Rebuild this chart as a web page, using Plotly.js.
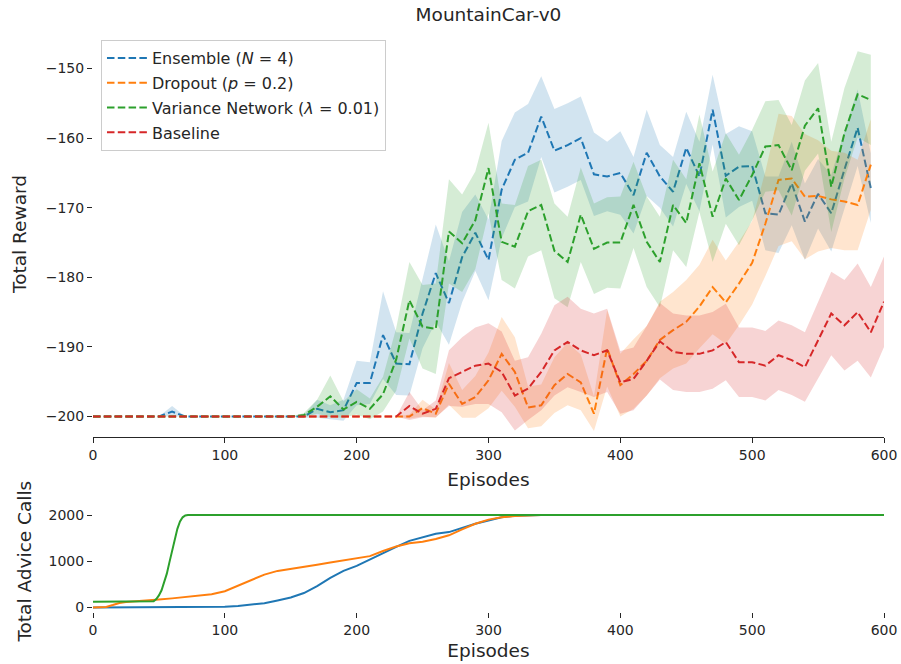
<!DOCTYPE html>
<html>
<head>
<meta charset="utf-8">
<script src="https://cdn.plot.ly/plotly-3.0.1.min.js"></script>
<style>
  html, body { margin: 0; padding: 0; background: #fff; }
  #chart { width: 901px; height: 664px; }
</style>
</head>
<body>
<div id="chart"></div>
<script>
// ---- Reward curves (mean and std over runs), one point every 10 episodes ----
const episodes = [0,10,20,30,40,50,60,70,80,90,100,110,120,130,140,150,160,170,180,190,
  200,210,220,230,240,250,260,270,280,290,300,310,320,330,340,350,360,370,380,390,
  400,410,420,430,440,450,460,470,480,490,500,510,520,530,540,550,560,570,580,590];
const episodesBaseline = [0,10,20,30,40,50,60,70,80,90,100,110,120,130,140,150,160,170,180,190,
  200,210,220,230,240,250,260,270,280,290,300,310,320,330,340,350,360,370,380,390,
  400,410,420,430,440,450,460,470,480,490,500,510,520,530,540,550,560,570,580,590,600];

const ensembleMean = [-200,-200,-200,-200,-200,-200,-199.3,-200,-200,-200,
  -200,-200,-200,-200,-200,-200,-200,-198.9,-199.4,-199.1,
  -195.2,-195.2,-188.3,-192.4,-192.5,-185.2,-179.4,-183.7,-177.1,-173.6,
  -177.5,-167.4,-163.1,-162.1,-156.9,-161.8,-161.0,-160.0,-165.2,-165.5,
  -165.0,-168.2,-162.1,-165.5,-167.7,-161.4,-165.5,-155.9,-165.4,-164.1,
  -164.0,-170.8,-171.0,-166.5,-172.0,-168.0,-170.8,-164.5,-158.5,-167.2];
const ensembleStd = [0,0,0,0,0,0,0.8,0,0,0,
  0,0,0,0,0,0,0.2,1.3,1.0,1.5,
  3.2,3.0,6.3,4.5,4.5,5.0,7.0,6.0,6.5,5.5,
  5.8,7.0,6.8,7.0,5.8,6.0,6.0,6.0,6.0,5.0,
  6.0,5.5,6.2,4.5,5.0,5.2,5.0,5.0,6.0,5.8,
  5.0,5.3,5.5,6.0,5.5,5.0,5.5,5.5,5.5,5.0];

const dropoutMean = [-200,-200,-200,-200,-200,-200,-200,-200,-200,-200,
  -200,-200,-200,-200,-200,-200,-200,-200,-200,-200,
  -200,-200,-200,-200,-200,-198.8,-199.6,-195.3,-198.2,-197.2,
  -194.8,-191.0,-193.6,-198.7,-198.4,-195.5,-193.9,-195.1,-199.6,-190.2,
  -195.5,-193.9,-192.0,-189.0,-187.6,-186.4,-184.2,-181.4,-183.6,-180.9,
  -177.9,-172.3,-166.0,-165.8,-168.4,-168.3,-168.8,-169.1,-169.6,-163.8];
const dropoutStd = [0,0,0,0,0,0,0,0,0,0,
  0,0,0,0,0,0,0,0,0,0,
  0,0,0,0,0.3,1.2,0.6,3.0,2.0,3.0,
  4.0,5.3,5.0,3.0,3.0,4.0,4.5,4.0,2.5,5.5,
  4.5,5.0,5.0,5.5,5.5,6.0,6.0,6.8,6.0,6.0,
  6.0,7.5,9.5,9.0,9.0,8.0,7.0,7.0,6.5,6.5];

const varianceMean = [-200,-200,-200,-200,-200,-200,-200,-200,-200,-200,
  -200,-200,-200,-200,-200,-200,-199.8,-198.6,-197.1,-199.0,
  -197.9,-198.9,-196.8,-191.8,-183.3,-187.1,-187.4,-173.4,-175.1,-171.8,
  -164.3,-174.9,-175.6,-170.5,-169.6,-176.2,-177.8,-171.0,-175.9,-175.0,
  -175.0,-169.6,-174.9,-177.8,-169.6,-172.2,-163.6,-171.3,-165.8,-168.9,
  -165.3,-161.2,-161.0,-164.6,-158.2,-155.7,-167.0,-159.3,-153.7,-154.5];
const varianceStd = [0,0,0,0,0,0,0,0,0,0,
  0,0,0,0,0,0,0.3,1.0,3.0,1.2,
  1.8,1.5,2.5,4.5,5.5,6.0,6.5,7.5,7.0,7.0,
  6.5,5.5,6.0,6.5,6.5,6.8,6.5,6.8,6.5,6.5,
  6.6,6.2,6.5,6.5,6.5,6.3,7.0,6.5,6.5,6.5,
  6.5,6.5,6.5,6.5,6.5,6.5,6.5,6.5,6.2,6.5];

const baselineMean = [-200,-200,-200,-200,-200,-200,-200,-200,-200,-200,
  -200,-200,-200,-200,-200,-200,-200,-200,-200,-200,
  -200,-200,-200,-200,-198.5,-199.6,-198.9,-194.5,-193.6,-192.7,
  -192.4,-193.6,-197.0,-196.0,-193.6,-190.5,-189.3,-190.5,-191.2,-190.5,
  -195.1,-194.6,-192.0,-189.2,-190.7,-191.0,-191.0,-190.5,-189.3,-192.2,
  -192.2,-192.7,-191.2,-191.9,-192.9,-189.0,-185.2,-186.9,-185.0,-187.9,-183.5];
const baselineStd = [0,0,0,0,0,0,0,0,0,0,
  0,0,0,0,0,0,0,0,0,0,
  0,0,0,0,2.0,0.5,1.2,4.0,5.0,5.5,
  5.8,5.8,5.0,4.5,5.5,6.5,6.5,6.0,6.0,6.0,
  4.5,4.5,5.0,5.5,5.5,5.5,5.5,5.5,5.5,5.0,
  5.0,5.0,5.0,5.0,5.0,5.5,6.0,6.5,7.0,6.5,6.5];

// ---- Cumulative advice calls ----
const ensembleCallEps = [0,80,90,100,110,120,130,140,150,160,170,180,190,200,210,220,230,240,250,260,270,280,290,300,310,320,330,340,600];
const ensembleCalls   = [0,0,5,15,30,55,90,150,215,310,460,640,790,900,1040,1170,1310,1440,1525,1595,1630,1720,1810,1880,1950,1985,1995,2000,2000];

const dropoutCallEps = [0,5,10,15,20,25,30,40,50,60,70,80,90,100,110,120,130,140,150,160,170,180,190,200,210,220,230,240,250,260,270,280,290,300,310,320,330,340,600];
const dropoutCalls   = [0,0,10,50,95,115,125,135,170,195,225,255,285,350,470,600,710,790,840,880,925,970,1015,1055,1110,1220,1320,1390,1420,1480,1560,1690,1810,1900,1950,1980,1995,2000,2000];

const varianceCallEps = [0,40,46,48,50,52,54,56,58,60,62,64,66,68,70,72,600];
const varianceCalls   = [120,120,130,180,260,370,530,730,980,1240,1480,1700,1860,1950,1990,2000,2000];

// ---- Series labels and colours ----
const names = ['Ensemble (<i>N</i> = 4)', 'Dropout (<i>p</i> = 0.2)',
               'Variance Network (<i>λ</i> = 0.01)', 'Baseline'];
const colors = ['#1f77b4', '#ff7f0e', '#2ca02c', '#d62728'];
const bands  = ['rgba(31,119,180,0.2)', 'rgba(255,127,14,0.2)',
                'rgba(44,160,44,0.2)', 'rgba(214,39,40,0.2)'];

const rewardSeries = [
  [episodes, ensembleMean, ensembleStd],
  [episodes, dropoutMean, dropoutStd],
  [episodes, varianceMean, varianceStd],
  [episodesBaseline, baselineMean, baselineStd]
];

const traces = [];
rewardSeries.forEach(([x, mean, std], k) => {
  const upper = mean.map((m, i) => m + std[i]);
  const lower = mean.map((m, i) => m - std[i]);
  traces.push({
    x: x.concat(x.slice().reverse()),
    y: upper.concat(lower.slice().reverse()),
    type: 'scatter', mode: 'lines', fill: 'toself',
    fillcolor: bands[k], line: {width: 0, color: 'rgba(0,0,0,0)'},
    showlegend: false, hoverinfo: 'skip', legendgroup: 'g' + k,
    xaxis: 'x', yaxis: 'y'
  });
  traces.push({
    x: x, y: mean, type: 'scatter', mode: 'lines', name: names[k],
    line: {color: colors[k], width: 2, dash: '7.5px,3.3px'},
    legendgroup: 'g' + k, xaxis: 'x', yaxis: 'y'
  });
});

const callSeries = [
  [ensembleCallEps, ensembleCalls],
  [dropoutCallEps, dropoutCalls],
  [varianceCallEps, varianceCalls]
];
callSeries.forEach(([x, y], k) => {
  traces.push({
    x: x, y: y, type: 'scatter', mode: 'lines',
    line: {color: colors[k], width: 2},
    showlegend: false, xaxis: 'x2', yaxis: 'y2'
  });
});

const ink = '#262626';
const tickFont = {family: 'DejaVu Sans', size: 14, color: ink};
const labelFont = {family: 'DejaVu Sans', size: 18.5, color: ink};
const xTicks = [0, 100, 200, 300, 400, 500, 600];

const layout = {
  width: 901, height: 664,
  margin: {l: 93, r: 17, t: 31, b: 52},
  paper_bgcolor: '#fff', plot_bgcolor: '#fff',
  font: {family: 'DejaVu Sans', color: ink},
  title: {text: 'MountainCar-v0', font: {family: 'DejaVu Sans', size: 18.5, color: ink},
          x: 0.5, xanchor: 'center', xref: 'paper', y: 0.978, yanchor: 'middle', yref: 'container'},
  showlegend: true,
  legend: {
    x: 0.0101, y: 0.9845, xanchor: 'left', yanchor: 'top',
    bgcolor: 'rgba(255,255,255,0.8)', bordercolor: '#cccccc', borderwidth: 1,
    font: {family: 'DejaVu Sans', size: 16, color: ink},
    traceorder: 'grouped', tracegroupgap: 1, itemwidth: 40
  },
  xaxis: {
    domain: [0, 1], anchor: 'y', range: [0, 600], tickvals: xTicks,
    showgrid: false, zeroline: false, showline: true, linecolor: ink, linewidth: 1,
    ticks: 'outside', ticklen: 5, tickcolor: ink, tickfont: tickFont,
    title: {text: 'Episodes', font: labelFont, standoff: 11}
  },
  yaxis: {
    domain: [0.3012, 1], anchor: 'x', range: [-202.95, -144.6],
    tickvals: [-200, -190, -180, -170, -160, -150],
    showgrid: false, zeroline: false, showline: false,
    ticks: 'outside', ticklen: 5, tickcolor: ink, tickfont: tickFont,
    title: {text: 'Total Reward', font: labelFont, standoff: 14}
  },
  xaxis2: {
    domain: [0, 1], anchor: 'y2', range: [0, 600], tickvals: xTicks,
    showgrid: false, zeroline: false, showline: false,
    ticks: 'outside', ticklen: 5, tickcolor: ink, tickfont: tickFont,
    title: {text: 'Episodes', font: labelFont, standoff: 7}
  },
  yaxis2: {
    domain: [0, 0.1749], anchor: 'x2', range: [-100, 2100],
    tickvals: [0, 1000, 2000],
    showgrid: false, zeroline: false, showline: false,
    ticks: 'outside', ticklen: 5, tickcolor: ink, tickfont: tickFont,
    title: {text: 'Total Advice Calls', font: labelFont, standoff: 12}
  },
  hovermode: false
};

Plotly.newPlot('chart', traces, layout, {staticPlot: true, displayModeBar: false});
</script>
</body>
</html>
